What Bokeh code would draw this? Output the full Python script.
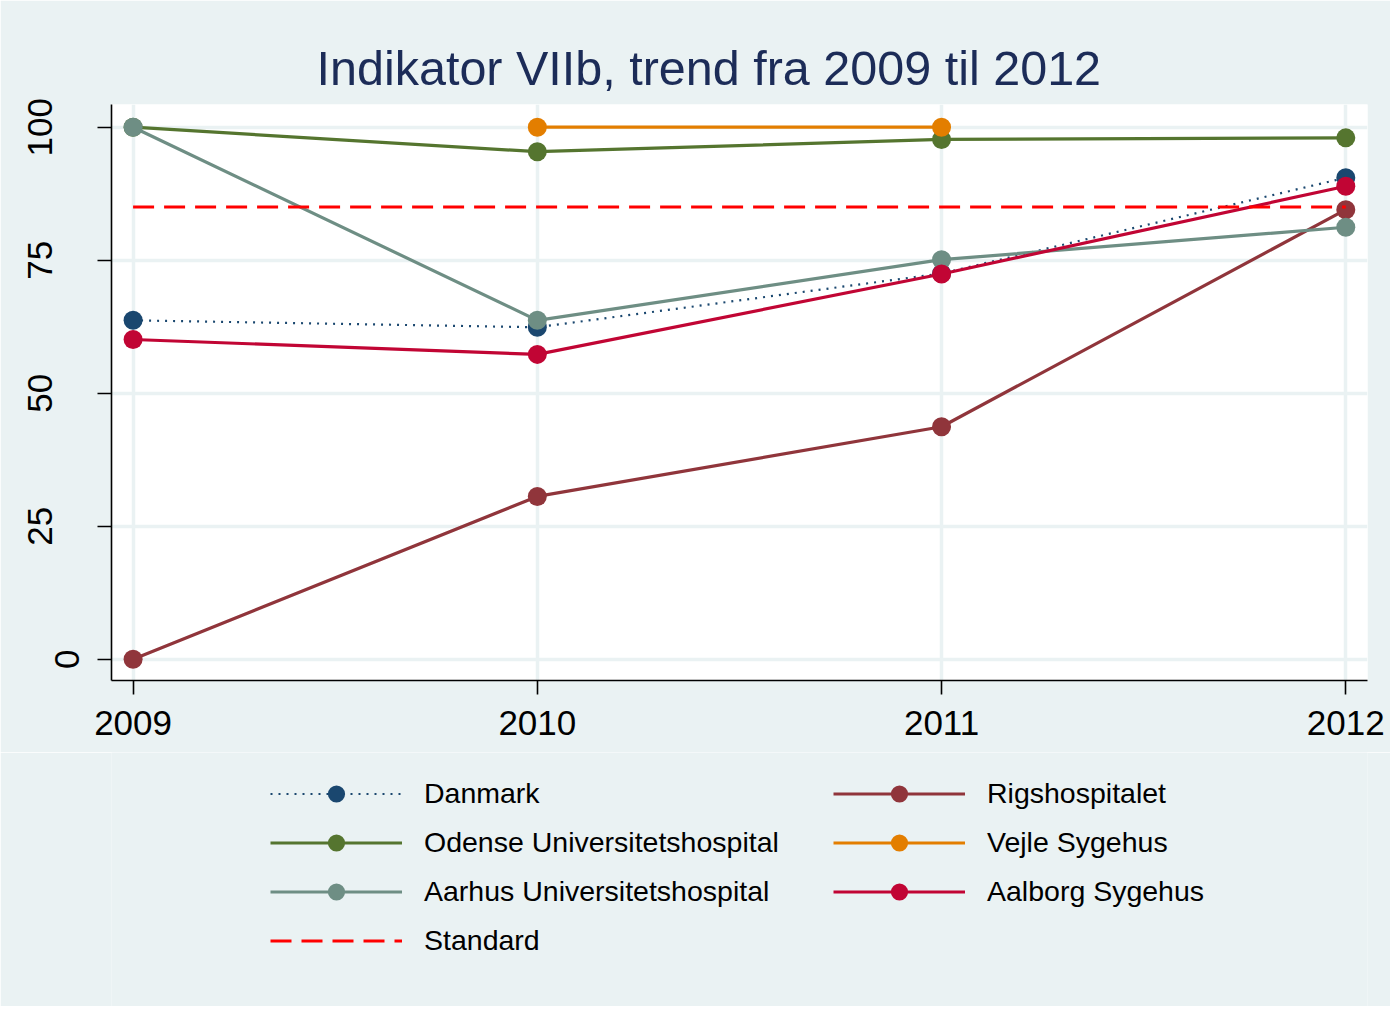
import numpy as np
from bokeh.plotting import figure
from bokeh.layouts import column
from bokeh.models import FixedTicker, Legend, LegendItem, ColumnDataSource, LinearAxis
from bokeh.embed import file_html
from bokeh.resources import INLINE

# ---- data ----
years = [2009, 2010, 2011, 2012]
danmark = [63.7, 62.4, 72.5, 90.5]
rigshospitalet = [0.0, 30.6, 43.7, 84.5]
odense = [100.0, 95.4, 97.7, 98.0]
vejle = [np.nan, 100.0, 100.0, np.nan]
aarhus = [100.0, 63.7, 75.1, 81.2]
aalborg = [60.1, 57.3, 72.4, 88.9]
standard_years = [2009, 2012]
standard = [85.0, 85.0]
y_ticks = [0, 25, 50, 75, 100]
x_ticks = [2009, 2010, 2011, 2012]

FONT = "Liberation Sans"
BG = "#EAF2F3"
W = 1390

p = figure(
    frame_width=1256, frame_height=576,
    min_border_left=111, min_border_right=23, min_border_top=104, min_border_bottom=72,
    x_range=(2008.9466, 2012.0537), y_range=(-4.0, 104.27),
    output_backend="svg", toolbar_location=None,
    background_fill_color="white", border_fill_color=BG,
    title="Indikator VIIb, trend fra 2009 til 2012",
)
p.outline_line_color = None

p.title.text_font = FONT
p.title.text_font_size = "48.5px"
p.title.text_font_style = "normal"
p.title.text_color = "#1C2C58"
p.title.align = "left"
p.title.offset = 205
p.title.standoff = 19

for ax in (p.xaxis[0], p.yaxis[0]):
    ax.axis_line_color = "black"
    ax.axis_line_width = 1.6
    ax.major_tick_line_color = "black"
    ax.major_tick_line_width = 1.6
    ax.major_tick_out = 14
    ax.major_tick_in = 0
    ax.minor_tick_line_color = None
    ax.major_label_text_font = FONT
    ax.major_label_text_font_size = "35px"
    ax.major_label_text_color = "black"

p.xaxis.ticker = FixedTicker(ticks=x_ticks)
p.yaxis.ticker = FixedTicker(ticks=y_ticks)
p.xaxis.major_label_standoff = 16
p.yaxis.major_label_standoff = 18
p.yaxis.major_label_orientation = "vertical"
p.yaxis.major_label_overrides = {t: "" for t in y_ticks if len(str(t)) > 1}

outer = LinearAxis(ticker=FixedTicker(ticks=[t for t in y_ticks if len(str(t)) > 1]))
outer.axis_line_color = None
outer.major_tick_line_color = None
outer.minor_tick_line_color = None
outer.major_tick_out = 0
outer.major_tick_in = 0
outer.major_label_standoff = 0
outer.major_label_orientation = "vertical"
outer.major_label_text_font = FONT
outer.major_label_text_font_size = "35px"
outer.major_label_text_color = "black"
p.add_layout(outer, "left")

p.xgrid.ticker = FixedTicker(ticks=x_ticks)
p.ygrid.ticker = FixedTicker(ticks=y_ticks)
for g in (p.xgrid[0], p.ygrid[0]):
    g.grid_line_color = BG
    g.grid_line_width = 3.5

LW = 3.2
MS = 19

styles = {
    "Danmark": ("#1A476F", "2 6", 2.2),
    "Rigshospitalet": ("#90353B", "solid", LW),
    "Odense Universitetshospital": ("#55752F", "solid", LW),
    "Vejle Sygehus": ("#E37E00", "solid", LW),
    "Aarhus Universitetshospital": ("#6E8E84", "solid", LW),
    "Aalborg Sygehus": ("#C10534", "solid", LW),
}
series_vals = {
    "Danmark": danmark,
    "Rigshospitalet": rigshospitalet,
    "Odense Universitetshospital": odense,
    "Vejle Sygehus": vejle,
    "Aarhus Universitetshospital": aarhus,
    "Aalborg Sygehus": aalborg,
}

def draw(fig, name, xs, ys):
    color, dash, lw = styles[name]
    src = ColumnDataSource(dict(x=xs, y=ys))
    ln = fig.line("x", "y", source=src, line_color=color, line_width=lw, line_dash=dash)
    sc = fig.scatter("x", "y", source=src, size=MS, fill_color=color, line_color=None)
    return [ln, sc]

for name, vals in series_vals.items():
    draw(p, name, years, vals)
p.line(standard_years, standard, line_color="#FF0000", line_width=2.8, line_dash="21 10")

# ---- legend strip below the chart (renderers carry no visible data) ----
LH = 254
lf = figure(width=W, height=LH, x_range=(0, 1), y_range=(0, 1),
            min_border=0, output_backend="svg", toolbar_location=None,
            background_fill_color=BG, border_fill_color=BG)
lf.axis.visible = False
lf.grid.visible = False
lf.outline_line_color = None

nan1 = [np.nan]
leg_r = {name: draw(lf, name, nan1, nan1) for name in series_vals}
leg_std = lf.line(nan1, nan1, line_color="#FF0000", line_width=2.8, line_dash="21 10")

FRAME_LEFT = 111

def make_legend(items, n, top, left):
    gh, sp = 43, 6
    h = n * gh + (n - 1) * sp
    lg = Legend(items=items, location=(left - FRAME_LEFT, LH - top - h), orientation="vertical")
    lg.glyph_width = 132
    lg.glyph_height = gh
    lg.label_height = gh
    lg.spacing = sp
    lg.label_standoff = 22
    lg.label_text_font = FONT
    lg.label_text_font_size = "28.5px"
    lg.label_text_color = "black"
    lg.padding = 0
    lg.margin = 0
    lg.border_line_color = None
    lg.background_fill_alpha = 0
    lg.click_policy = "none"
    return lg

leg1 = make_legend([
    LegendItem(label="Danmark", renderers=leg_r["Danmark"]),
    LegendItem(label="Odense Universitetshospital", renderers=leg_r["Odense Universitetshospital"]),
    LegendItem(label="Aarhus Universitetshospital", renderers=leg_r["Aarhus Universitetshospital"]),
    LegendItem(label="Standard", renderers=[leg_std]),
], 4, 19.5, 270)
leg2 = make_legend([
    LegendItem(label="Rigshospitalet", renderers=leg_r["Rigshospitalet"]),
    LegendItem(label="Vejle Sygehus", renderers=leg_r["Vejle Sygehus"]),
    LegendItem(label="Aalborg Sygehus", renderers=leg_r["Aalborg Sygehus"]),
], 3, 19.5, 833)
lf.add_layout(leg1, "center")
lf.add_layout(leg2, "center")

layout = column(p, lf, spacing=0)
open("out.html", "w").write(file_html(layout, INLINE))
